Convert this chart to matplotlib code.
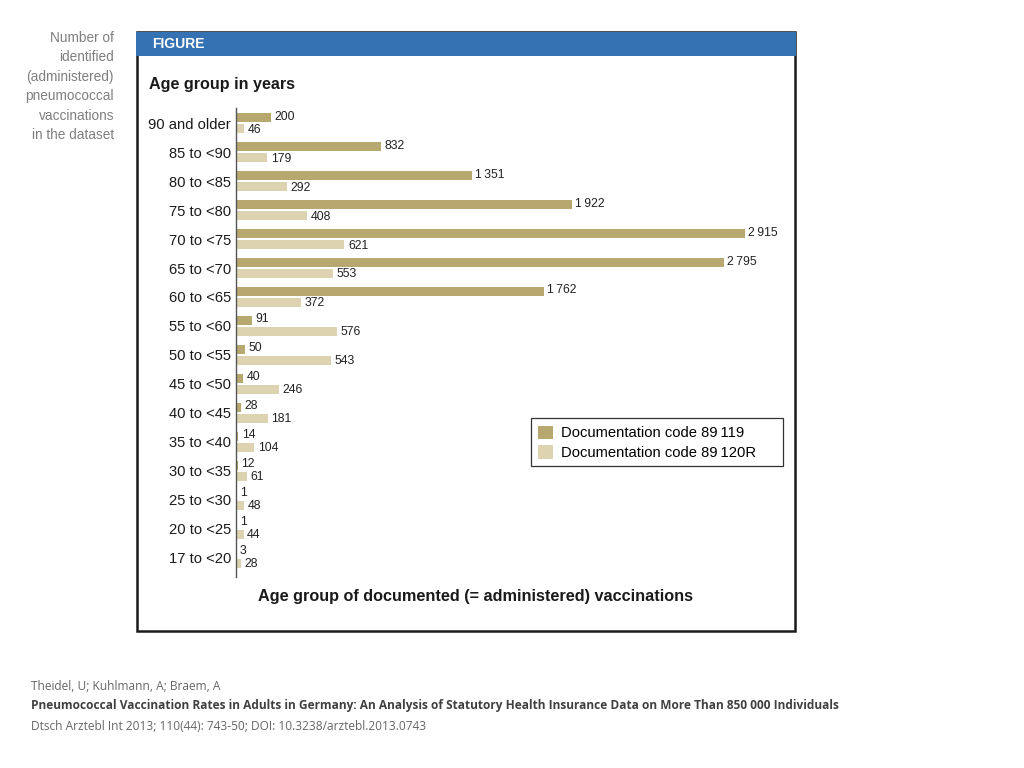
import matplotlib
matplotlib.use('Agg')
import matplotlib.pyplot as plt
from matplotlib.patches import Rectangle

# data
age_groups = ['90 and older', '85 to <90', '80 to <85', '75 to <80', '70 to <75',
              '65 to <70', '60 to <65', '55 to <60', '50 to <55', '45 to <50',
              '40 to <45', '35 to <40', '30 to <35', '25 to <30', '20 to <25', '17 to <20']
code_89119 = [200, 832, 1351, 1922, 2915, 2795, 1762, 91, 50, 40, 28, 14, 12, 1, 1, 3]
code_89120r = [46, 179, 292, 408, 621, 553, 372, 576, 543, 246, 181, 104, 61, 48, 44, 28]
series_names = ['Documentation code 89\u2009119', 'Documentation code 89\u2009120R']

dark = '#b6a86f'
light = '#ddd3b1'
W, H = 1024, 768


def fx(px):
    return px / W


def fy(py):
    return 1 - py / H


def fmt(v):
    # thin space as thousands separator, like the original
    return f'{v:,}'.replace(',', '\u2009')


plt.rcParams['font.family'] = ['Liberation Sans', 'DejaVu Sans']
fig = plt.figure(figsize=(10.24, 7.68), dpi=100)

# panel frame and blue header
fig.patches.append(Rectangle((fx(137), fy(631)), fx(795) - fx(137), fy(32) - fy(631),
                             transform=fig.transFigure, fill=False, ec='#1a1a1a', lw=1.8))
fig.patches.append(Rectangle((fx(136), fy(56)), fx(796) - fx(136), fy(32) - fy(56),
                             transform=fig.transFigure, fc='#3572b4', ec='none'))
fig.text(fx(152), fy(44), 'FIGURE', color='white', fontsize=10, fontweight='bold',
         va='center', ha='left')

# side note
fig.text(fx(114), fy(31), 'Number of\nidentified\n(administered)\npneumococcal\nvaccinations\nin the dataset',
         ha='right', va='top', color='#7f7f7f', fontsize=9.8, linespacing=1.49)

ax = fig.add_axes([fx(236), fy(577), fx(790) - fx(236), fy(108) - fy(577)])
y = list(range(len(age_groups)))
h = 0.31
ax.barh([i - 0.2 for i in y], code_89119, height=h, color=dark, label=series_names[0])
ax.barh([i + 0.2 for i in y], code_89120r, height=h, color=light, label=series_names[1])

for i, (a, b) in enumerate(zip(code_89119, code_89120r)):
    ax.annotate(fmt(a), (a, i - 0.2), xytext=(2.5, 0.5), textcoords='offset points',
                va='center', ha='left', fontsize=8.8, color='#222222')
    ax.annotate(fmt(b), (b, i + 0.2), xytext=(2.5, -0.5), textcoords='offset points',
                va='center', ha='left', fontsize=8.8, color='#222222')

ax.set_xlim(0, (790 - 236) / 0.1746)
ax.set_ylim(15.66, -0.52)
ax.set_yticks(y)
ax.set_yticklabels(age_groups, fontsize=10.6, color='#1a1a1a')
ax.tick_params(axis='y', length=0, pad=3.5)
ax.set_xticks([])
for s in ['top', 'right', 'bottom']:
    ax.spines[s].set_visible(False)
ax.spines['left'].set_color('#555555')
ax.spines['left'].set_linewidth(1.0)

# legend: frame drawn separately so its size matches the original box
fig.patches.append(Rectangle((fx(531), fy(466)), fx(783) - fx(531), fy(418) - fy(466),
                             transform=fig.transFigure, fill=False, ec='#333333', lw=0.9))
leg = ax.legend(loc='upper left', bbox_to_anchor=(fx(538), fy(425.5)), bbox_transform=fig.transFigure,
                frameon=False, fontsize=10.6, handlelength=1.0, handleheight=1.05,
                handletextpad=0.55, borderpad=0, labelspacing=0.33, borderaxespad=0)

fig.text(fx(149), fy(84), 'Age group in years', fontsize=11.6, fontweight='bold',
         color='#1a1a1a', va='center', ha='left')
fig.text(fx(475), fy(597), 'Age group of documented (= administered) vaccinations', fontsize=11.7,
         fontweight='bold', color='#1a1a1a', va='center', ha='center')

# citation
fig.text(fx(31), fy(686), 'Theidel, U; Kuhlmann, A; Braem, A', fontsize=8.6, color='#666666',
         va='center', family=['Open Sans', 'DejaVu Sans'])
fig.text(fx(31), fy(706), 'Pneumococcal Vaccination Rates in Adults in Germany: An Analysis of Statutory '
         'Health Insurance Data on More Than 850 000 Individuals', fontsize=8.6, color='#404040',
         fontweight='bold', va='center', family=['Open Sans', 'DejaVu Sans'])
fig.text(fx(31), fy(727), 'Dtsch Arztebl Int 2013; 110(44): 743-50; DOI: 10.3238/arztebl.2013.0743',
         fontsize=8.6, color='#666666', va='center', family=['Open Sans', 'DejaVu Sans'])

fig.savefig('out.png', dpi=100)
